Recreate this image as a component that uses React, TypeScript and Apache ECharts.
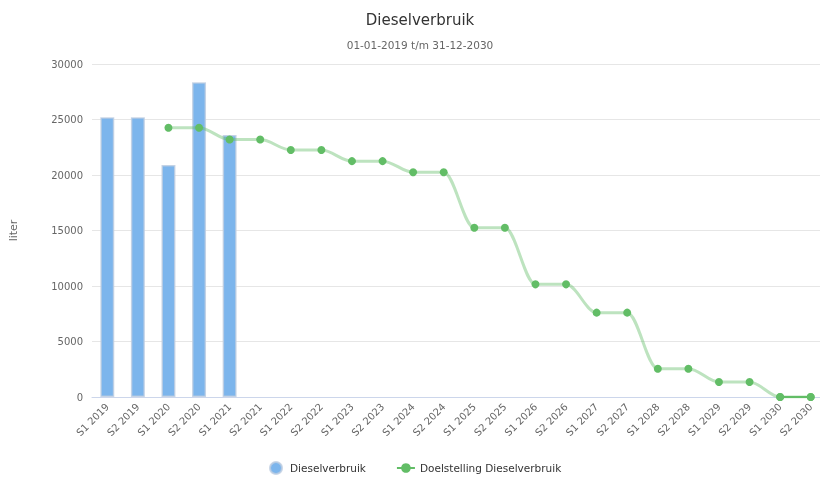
import React, { useEffect, useRef } from "react";
import * as echarts from "echarts";

const categories = [
  "S1 2019", "S2 2019", "S1 2020", "S2 2020", "S1 2021", "S2 2021",
  "S1 2022", "S2 2022", "S1 2023", "S2 2023", "S1 2024", "S2 2024",
  "S1 2025", "S2 2025", "S1 2026", "S2 2026", "S1 2027", "S2 2027",
  "S1 2028", "S2 2028", "S1 2029", "S2 2029", "S1 2030", "S2 2030",
];

const verbruik: (number | null)[] = [
  25200, 25200, 20900, 28350, 23600, null, null, null, null, null, null, null,
  null, null, null, null, null, null, null, null, null, null, null, null,
];

const doelstelling: (number | null)[] = [
  null, null, 24250, 24250, 23200, 23200, 22250, 22250, 21250, 21250, 20250, 20250,
  15250, 15250, 10150, 10150, 7600, 7600, 2550, 2550, 1350, 1350, 0, 0,
];

const yTicks = { min: 0, max: 30000, interval: 5000 };

const FONT = "DejaVu Sans";
const BAR = "#7cb5ec";
const GREEN = "#62bd66";
const PALE = "rgba(98,189,102,0.42)";

export default function App() {
  const ref = useRef<HTMLDivElement>(null);
  useEffect(() => {
    if (!ref.current) return;
    const chart = echarts.init(ref.current, null, { renderer: "svg" });
    const lastSeg = doelstelling.map((v, i) => (i >= doelstelling.length - 2 ? v : null));
    chart.setOption({
      animation: false,
      textStyle: { fontFamily: FONT },
      title: {
        text: "Dieselverbruik",
        subtext: "01-01-2019 t/m 31-12-2030",
        left: "center",
        top: 7,
        itemGap: 12,
        textStyle: { fontFamily: FONT, fontSize: 15, fontWeight: "normal", color: "#333" },
        subtextStyle: { fontFamily: FONT, fontSize: 10.5, color: "#666" },
      },
      legend: {
        bottom: 3,
        left: 264,
        itemGap: 30,
        itemWidth: 18,
        itemHeight: 12,
        textStyle: { fontFamily: FONT, fontSize: 10.5, color: "#333" },
        data: [
          { name: "Dieselverbruik", icon: "circle", itemStyle: { color: BAR } },
          {
            name: "Doelstelling Dieselverbruik",
            itemStyle: { color: GREEN },
            lineStyle: { color: GREEN, width: 2 },
          },
        ],
      },
      grid: { left: 86, right: 14, top: 64, bottom: 86 },
      xAxis: {
        type: "category",
        data: categories,
        boundaryGap: true,
        axisLine: { lineStyle: { color: "#ccd6eb" } },
        axisTick: { show: false },
        axisLabel: {
          rotate: 45,
          interval: 0,
          fontFamily: FONT,
          fontSize: 10,
          color: "#666",
          margin: 8,
        },
      },
      yAxis: {
        type: "value",
        min: yTicks.min,
        max: yTicks.max,
        interval: yTicks.interval,
        name: "liter",
        nameLocation: "middle",
        nameGap: 73,
        nameTextStyle: { fontFamily: FONT, fontSize: 11, color: "#666" },
        axisLine: { show: false },
        axisTick: { show: false },
        axisLabel: {
          fontFamily: FONT,
          fontSize: 10,
          color: "#666",
          margin: 9,
          formatter: (v: number) => String(v),
        },
        splitLine: { lineStyle: { color: "#e6e6e6" } },
      },
      series: [
        {
          name: "Dieselverbruik",
          type: "bar",
          data: verbruik,
          barWidth: 14,
          itemStyle: {
            color: BAR,
            borderColor: "rgba(190,205,225,0.8)",
            borderWidth: 1.5,
          },
        },
        {
          name: "Doelstelling Dieselverbruik",
          type: "line",
          data: doelstelling,
          smooth: 0.35,
          smoothMonotone: "x",
          symbol: "circle",
          symbolSize: 8,
          showSymbol: true,
          connectNulls: false,
          lineStyle: { color: PALE, width: 3 },
          itemStyle: { color: GREEN },
          z: 3,
        },
        {
          name: "Doelstelling Dieselverbruik",
          type: "line",
          data: lastSeg,
          symbol: "circle",
          symbolSize: 8,
          lineStyle: { color: GREEN, width: 2 },
          itemStyle: { color: GREEN },
          z: 4,
        },
      ],
    });
    return () => chart.dispose();
  }, []);
  return (
    <div
      ref={ref}
      style={{ position: "fixed", left: 0, top: 0, width: 840, height: 483 }}
    />
  );
}
